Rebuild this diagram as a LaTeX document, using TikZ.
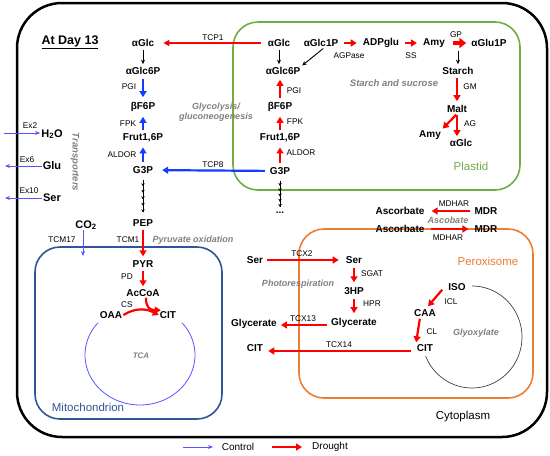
\documentclass[tikz,border=0pt]{standalone}
\usepackage{fontspec}
\setmainfont{Liberation Sans}
\usetikzlibrary{arrows.meta,decorations.markings}
\definecolor{plgreen}{RGB}{112,173,71}
\definecolor{mitblue}{RGB}{47,85,151}
\definecolor{perorange}{RGB}{237,125,49}
\definecolor{ctrlblue}{RGB}{20,60,255}
\definecolor{thinblue}{RGB}{85,85,255}
\definecolor{pathgray}{RGB}{128,128,128}
\begin{document}
\begin{tikzpicture}[x=1pt,y=-1pt,
  met/.style={font=\fontsize{10}{12}\selectfont\bfseries, inner sep=1pt},
  bigmet/.style={font=\fontsize{11}{13}\selectfont\bfseries, inner sep=1pt},
  enz/.style={font=\fontsize{8.3}{9}\selectfont, inner sep=0.5pt},
  pw/.style={font=\fontsize{9}{10.5}\selectfont\bfseries\itshape, text=pathgray, inner sep=0pt, align=center},
  comp/.style={font=\fontsize{11.5}{13}\selectfont, inner sep=0pt},
  rarr/.style={draw=red, line width=2.2pt, -{Triangle[length=6pt,width=7pt]}},
  barr/.style={draw=ctrlblue, line width=2.2pt, -{Triangle[length=6pt,width=7pt]}},
  tarr/.style={draw=thinblue, line width=1pt, -{Stealth[length=5pt,width=4pt]}},
  karr/.style={draw=black, line width=0.9pt, -{Stealth[length=4.5pt,width=4pt]}},
  gapv/.style={shorten <=3pt, shorten >=4pt},
  chainarr/.style={draw=black, line width=0.8pt, postaction={decorate},
    decoration={markings, mark=between positions 0.2 and 1 step 0.2 with {\arrow{Stealth[length=3pt,width=3.5pt]}}}}
]
\useasboundingbox (0,0) rectangle (550,456);

% compartments
\draw[line width=2.5pt, rounded corners=45pt] (17,3) rectangle (547,437);
\draw[plgreen, line width=1.6pt, rounded corners=25pt] (233,22) rectangle (520,190);
\draw[mitblue, line width=1.6pt, rounded corners=25pt] (35,247) rectangle (222,419);
\draw[perorange, line width=1.6pt, rounded corners=25pt] (299,229) rectangle (533,398);

\node[font=\fontsize{12.5}{14}\selectfont\bfseries] (day) at (70,42) {\underline{At Day 13}};

% left column (cytosol)
\node[met] (glcL) at (143,43) {αGlc};
\node[met] (g6pL) at (143,71) {αGlc6P};
\node[met] (f6pL) at (143,107) {βF6P};
\node[met] (fbpL) at (143,138) {Frut1,6P};
\node[met] (g3pL) at (143,170) {G3P};
\node[met] (pep) at (143,223) {PEP};
\node[met] (pyr) at (143,264) {PYR};
\node[met] (acoa) at (143,293) {AcCoA};
\node[met] (oaa) at (111,315) {OAA};
\node[met] (citM) at (168,315) {CIT};

\node[enz] (pgiL) at (129,87) {PGI};
\node[enz] (fpkL) at (128,124) {FPK};
\node[enz] (aldL) at (122,155) {ALDOR};
\node[enz] (tcm1) at (128,240) {TCM1};
\node[enz] (pd) at (127,277) {PD};
\node[enz] (cs) at (127,305) {CS};

\draw[karr, shorten <=2pt, shorten >=2pt] (glcL) -- (g6pL);
\draw[barr, gapv] (g6pL) -- (f6pL);
\draw[barr, gapv] (fbpL) -- (f6pL);
\draw[barr, gapv] (g3pL) -- (fbpL);
\draw[chainarr] ([yshift=-5pt]g3pL.south) -- ([yshift=6pt]pep.north);
\draw[rarr, shorten <=2pt, shorten >=3pt] (pep) -- (pyr);
\draw[rarr, shorten <=2pt, shorten >=2pt] (pyr) -- (acoa);
\draw[rarr] (oaa.east) .. controls (135,308) and (145,308) .. (citM.west);
\draw[rarr] ([xshift=3pt]acoa.south) .. controls (146,308) and (150,310) .. ([xshift=2pt]citM.north west);

\node[pw] (pyrox) at (193,240) {Pyruvate oxidation};
\node[pw] (glyco) at (216,112) {Glycolysis/\\gluconeogenesis};
\node[pw, rotate=-90, font=\fontsize{9.5}{11}\selectfont\bfseries\itshape] (transp) at (75,162) {Transporters};

% CO2
\node[bigmet] (co2) at (86,225) {CO\textsubscript{2}};
\node[enz] (tcm17) at (62,240) {TCM17};
\coordinate (co2end) at (83,256);
\draw[tarr] (co2.south -| co2end) ++(0,-1) -- (co2end);

% TCA cycle
\draw[thinblue, line width=0.8pt] plot[domain=-40:220, samples=80] ({140+55*cos(\x)},{355+50*sin(\x)});
\node[pw, font=\fontsize{8}{9}\selectfont\bfseries\itshape] (tca) at (141,356) {TCA};
\node[comp, text=mitblue] (mito) at (88,407) {Mitochondrion};

% transporters
\node[bigmet] (h2o) at (52,134) {H\textsubscript{2}O};
\node[bigmet] (glu) at (52,166) {Glu};
\node[bigmet] (serT) at (52,198) {Ser};
\node[enz] (ex2) at (30,126) {Ex2};
\node[enz] (ex6) at (27,160) {Ex6};
\node[enz] (ex10) at (29,191) {Ex10};
\coordinate (h2oin) at (4,133);
\coordinate (gluout) at (5,166);
\coordinate (serout) at (5,198);
\draw[tarr] (h2oin) -- (h2o.west |- h2oin) ;
\draw[tarr] (glu.west) -- (gluout);
\draw[tarr] (serT.west) -- (serout);

% plastid
\node[met] (glcP) at (279,43) {αGlc};
\node[met] (g1p) at (321,43) {αGlc1P};
\node[met] (adpg) at (381,43) {ADPglu};
\node[met] (amy) at (434,43) {Amy};
\node[met] (glu1p) at (489,43) {αGlu1P};
\node[met] (g6pP) at (283,71) {αGlc6P};
\node[met] (f6pP) at (280,107) {βF6P};
\node[met] (fbpP) at (280,138) {Frut1,6P};
\node[met] (g3pP) at (280,171) {G3P};
\node[met] (dots) at (280,213) {...};
\node[met] (starch) at (458,71) {Starch};
\node[met] (malt) at (457,109) {Malt};
\node[met] (amy2) at (430,135) {Amy};
\node[met] (glc2) at (461,143) {αGlc};

\node[enz] (agp) at (349,56) {AGPase};
\node[enz] (ss) at (411,56) {SS};
\node[enz] (gp) at (456,35) {GP};
\node[enz] (pgiP) at (294,91) {PGI};
\node[enz] (fpkP) at (295,122) {FPK};
\node[enz] (aldP) at (301,153) {ALDOR};
\node[enz] (gm) at (470,87) {GM};
\node[enz] (ag) at (470,124) {AG};
\node[enz] (tcp1) at (213,38) {TCP1};
\node[enz] (tcp8) at (213,165) {TCP8};

\draw[red, line width=1.6pt, -{Triangle[length=6pt,width=6pt]}, shorten <=6pt, shorten >=8pt] (glcP) -- (glcL);
\draw[ctrlblue, line width=2.2pt, -{Triangle[length=6pt,width=7pt]}, shorten <=4pt, shorten >=8pt] (g3pP) -- (g3pL);
\draw[rarr, line width=2pt, shorten <=5pt, shorten >=5pt] (g1p) -- (adpg);
\draw[rarr, line width=2pt, shorten <=5pt, shorten >=5pt] (adpg) -- (amy);
\draw[red, line width=4pt, -{Triangle[length=7pt,width=10pt]}, shorten <=7pt, shorten >=4pt] (amy) -- (glu1p);
\draw[karr, shorten <=2pt, shorten >=2pt] (glcP) -- (glcP |- g6pP.north);
\draw[karr, shorten <=1pt, shorten >=1pt] ([xshift=3pt]g1p.south) -- (g6pP.north east);
\draw[rarr, gapv] (f6pP.north) -- (f6pP.north |- g6pP.south);
\draw[rarr, gapv] (fbpP) -- (f6pP);
\draw[rarr, gapv] (g3pP) -- (fbpP);
\draw[chainarr] ([yshift=-5pt]g3pP.south) -- ([yshift=4pt]dots.north);
\draw[karr, shorten <=2pt, shorten >=2pt] (amy.south -| starch) -- (starch);
\draw[rarr, shorten <=2pt, shorten >=3pt] (starch.south -| malt) -- (malt);
\draw[rarr, shorten <=1pt, shorten >=2pt] (malt.south) -- (malt.south |- glc2.north);
\draw[rarr, shorten <=1pt, shorten >=1pt] (malt.south) -- (amy2.north east);

\node[pw, font=\fontsize{9.5}{11}\selectfont\bfseries\itshape] (ss2) at (394,83) {Starch and sucrose};
\node[comp, text=plgreen] (plastid) at (471,166) {Plastid};

% ascorbate
\node[met] (asc1) at (400,211) {Ascorbate};
\node[met] (mdr1) at (486,211) {MDR};
\node[met] (asc2) at (400,229) {Ascorbate};
\node[met] (mdr2) at (486,229) {MDR};
\node[enz] (mdhar1) at (454,204) {MDHAR};
\node[enz] (mdhar2) at (448,238) {MDHAR};
\node[pw] (ascob) at (448,220) {Ascobate};
\draw[rarr, shorten <=3pt, shorten >=6pt] (mdr1) -- (asc1);
\draw[rarr, shorten <=5pt, shorten >=5pt] (asc2) -- (mdr2);

% peroxisome / photorespiration
\node[comp, text=perorange] (perox) at (488,261) {Peroxisome};
\node[met] (serL) at (255,260) {Ser};
\node[met] (serR) at (354,260) {Ser};
\node[met] (hp3) at (354,291) {3HP};
\node[met] (glyR) at (354,323) {Glycerate};
\node[met] (glyL) at (254,324) {Glycerate};
\node[met] (citL) at (255,348) {CIT};
\node[met] (iso) at (457,287) {ISO};
\node[met] (caa) at (425,313) {CAA};
\node[met] (citP) at (425,348) {CIT};
\node[enz] (tcx2) at (302,254) {TCX2};
\node[enz] (sgat) at (372,274) {SGAT};
\node[enz] (hpr) at (372,304) {HPR};
\node[enz] (tcx13) at (303,319) {TCX13};
\node[enz] (tcx14) at (339,345) {TCX14};
\node[enz] (icl) at (451,302) {ICL};
\node[enz] (cl) at (432,332) {CL};
\node[pw] (photo) at (298,284) {Photorespiration};
\node[pw] (glyox) at (476,333) {Glyoxylate};

\draw[rarr, shorten <=3pt, shorten >=6pt] (serL) -- (serR);
\draw[rarr, gapv] (serR) -- (hp3);
\draw[rarr, gapv] (hp3) -- (glyR);
\draw[rarr, shorten <=3pt, shorten >=3pt] (glyR.west |- 0,325) -- (glyL.east |- 0,325);
\draw[rarr, shorten <=5pt, shorten >=4pt] (citP.west |- 0,351) -- (citL.east |- 0,351);
\draw[rarr] ([xshift=-5pt,yshift=2pt]iso.south west) -- ([xshift=-9pt,yshift=2pt]caa.north east);
\draw[rarr, shorten <=1pt, shorten >=1pt] ([xshift=-5pt]caa.south) -- ([xshift=-9pt]citP.north);
\draw[line width=0.7pt, draw=black!75] plot[domain=-90:158, samples=80] ({472+50*cos(\x)},{337+51*sin(\x)});

\node[comp] (cyto) at (463,417) {Cytoplasm};

% legend
\coordinate (lc1) at (183,447);
\coordinate (lc2) at (213,447);
\coordinate (ld1) at (272,447);
\coordinate (ld2) at (302,447);
\draw[tarr] (lc1) -- (lc2);
\draw[rarr, line width=1.8pt] (ld1) -- (ld2);
\node[font=\fontsize{10}{12}\selectfont] (ctrl) at (238,447) {Control};
\node[font=\fontsize{10}{12}\selectfont] (drought) at (330,447) {Drought};
\end{tikzpicture}
\end{document}
